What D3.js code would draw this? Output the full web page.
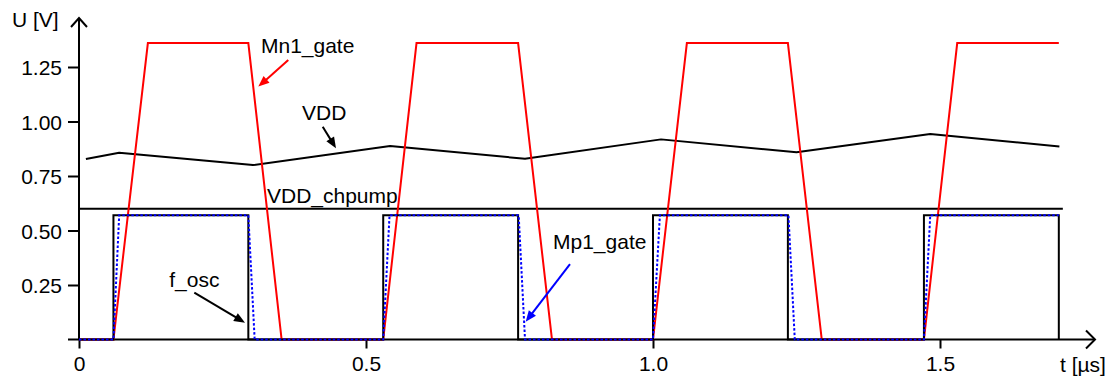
<!DOCTYPE html>
<html>
<head>
<meta charset="utf-8">
<script src="https://cdn.jsdelivr.net/npm/d3@7"></script>
<style>
  html, body { margin: 0; padding: 0; background: #fff; }
  svg { display: block; }
  text { font-family: "Liberation Sans", Arial, sans-serif; font-size: 21px; fill: #000; }
</style>
</head>
<body>
<svg id="chart" width="1114" height="379"></svg>
<script>
// Time axis ticks [µs] and voltage ticks [V]
const xTicks = [0, 0.5, 1.0, 1.5];
const xTickLabels = ["0", "0.5", "1.0", "1.5"];
const yTicks = [0.25, 0.5, 0.75, 1.0, 1.25];
const yTickLabels = ["0.25", "0.50", "0.75", "1.00", "1.25"];

// Oscillator clock
const fOscT = [0, 0.06, 0.06, 0.295, 0.295, 0.53, 0.53, 0.765, 0.765, 1.0, 1.0, 1.235, 1.235, 1.472, 1.472, 1.707, 1.707];
const fOscV = [0, 0, 0.57, 0.57, 0, 0, 0.57, 0.57, 0, 0, 0.57, 0.57, 0, 0, 0.57, 0.57, 0];

// PMOS gate drive
const mp1T = [0, 0.06, 0.07, 0.295, 0.306, 0.53, 0.541, 0.766, 0.777, 1.0, 1.012, 1.236, 1.247, 1.472, 1.483, 1.707];
const mp1V = [0, 0, 0.57, 0.57, 0, 0, 0.57, 0.57, 0, 0, 0.57, 0.57, 0, 0, 0.57, 0.57];

// NMOS gate drive (boosted)
const mn1T = [0, 0.06, 0.12, 0.295, 0.353, 0.53, 0.588, 0.765, 0.824, 1.0, 1.059, 1.235, 1.294, 1.472, 1.53, 1.707];
const mn1V = [0, 0, 1.36, 1.36, 0, 0, 1.36, 1.36, 0, 0, 1.36, 1.36, 0, 0, 1.36, 1.36];

// Supply voltage
const vddT = [0.012, 0.07, 0.303, 0.542, 0.777, 1.014, 1.25, 1.483, 1.708];
const vddV = [0.828, 0.857, 0.80, 0.888, 0.829, 0.918, 0.859, 0.943, 0.885];

// Charge pump supply
const chpT = [0, 1.714];
const chpV = [0.6, 0.6];

// Labels and pointer arrows, in data units (t, U)
const labels = [
  { text: "Mn1_gate",   t: 0.317,  v: 1.314 },
  { text: "VDD",        t: 0.3885, v: 1.007 },
  { text: "VDD_chpump", t: 0.3275, v: 0.626 },
  { text: "Mp1_gate",   t: 0.8258, v: 0.415 },
  { text: "f_osc",      t: 0.1573, v: 0.242 }
];
const arrows = [
  { t1: 0.3646, v1: 1.282, t2: 0.3124, v2: 1.160, color: "#ff0000" },
  { t1: 0.4246, v1: 0.976, t2: 0.4477, v2: 0.877, color: "#000" },
  { t1: 0.8554, v1: 0.346, t2: 0.7782, v2: 0.0817, color: "#0000ff" },
  { t1: 0.2009, v1: 0.215, t2: 0.2892, v2: 0.077, color: "#000" }
];

const svg = d3.select("#chart");
const x = d3.scaleLinear().domain([0, 1.5]).range([79, 940]);
const y = d3.scaleLinear().domain([0, 1.25]).range([339.5, 67]);

const zip = (ts, vs) => ts.map((t, i) => [t, vs[i]]);
const line = d3.line().x(d => x(d[0])).y(d => y(d[1]));
const FONT = "'Liberation Sans', Arial, sans-serif";

// Axes
const yAxis = d3.axisLeft(y)
  .tickValues(yTicks)
  .tickFormat((d, i) => yTickLabels[i])
  .tickSize(11)
  .tickPadding(6);
const gy = svg.append("g").attr("transform", `translate(${x(0)},0)`).call(yAxis);
gy.select(".domain").remove();
gy.selectAll(".tick line").attr("stroke", "#000").attr("stroke-width", 2);
gy.selectAll(".tick text")
  .attr("dy", "0.36em")
  .style("font-family", FONT)
  .style("font-size", "21px");

const xAxis = d3.axisBottom(x)
  .tickValues(xTicks)
  .tickFormat((d, i) => xTickLabels[i])
  .tickSize(9)
  .tickPadding(8);
const gx = svg.append("g").attr("transform", `translate(0,${y(0)})`).call(xAxis);
gx.select(".domain").remove();
gx.selectAll(".tick line").attr("stroke", "#000").attr("stroke-width", 2);
gx.selectAll(".tick text")
  .style("font-family", FONT)
  .style("font-size", "21px");

// Axis lines with open arrow heads
const x0 = x(0), y0 = y(0);
const xEnd = 1095, yTop = 18;
svg.append("line").attr("x1", x0 - 11).attr("y1", y0).attr("x2", xEnd).attr("y2", y0)
  .attr("stroke", "#000").attr("stroke-width", 2);
svg.append("line").attr("x1", x0).attr("y1", y0).attr("x2", x0).attr("y2", yTop)
  .attr("stroke", "#000").attr("stroke-width", 2);
svg.append("path").attr("d", `M${xEnd - 9},${y0 - 9}L${xEnd},${y0}L${xEnd - 9},${y0 + 9}`)
  .attr("fill", "none").attr("stroke", "#000").attr("stroke-width", 2);
svg.append("path").attr("d", `M${x0 - 8},${yTop + 9}L${x0},${yTop}L${x0 + 8},${yTop + 9}`)
  .attr("fill", "none").attr("stroke", "#000").attr("stroke-width", 2);

svg.append("text").attr("x", 12).attr("y", 27).text("U [V]");
svg.append("text").attr("x", 1060).attr("y", 371.5).text("t [µs]");

// Waveforms
svg.append("path").datum(zip(chpT, chpV)).attr("d", line)
  .attr("fill", "none").attr("stroke", "#000").attr("stroke-width", 2);
svg.append("path").datum(zip(vddT, vddV)).attr("d", line)
  .attr("fill", "none").attr("stroke", "#000").attr("stroke-width", 2).attr("stroke-linejoin", "round");
svg.append("path").datum(zip(mn1T, mn1V)).attr("d", line)
  .attr("fill", "none").attr("stroke", "#ff0000").attr("stroke-width", 2);
svg.append("path").datum(zip(fOscT, fOscV)).attr("d", line)
  .attr("fill", "none").attr("stroke", "#000").attr("stroke-width", 2);
svg.append("path").datum(zip(mp1T, mp1V)).attr("d", line)
  .attr("fill", "none").attr("stroke", "#0000ff").attr("stroke-width", 2)
  .attr("stroke-dasharray", "2.5,2");

// Annotations
labels.forEach(l => {
  svg.append("text").attr("x", x(l.t)).attr("y", y(l.v)).text(l.text);
});

arrows.forEach(a => {
  const x1 = x(a.t1), y1 = y(a.v1), x2 = x(a.t2), y2 = y(a.v2);
  const dx = x2 - x1, dy = y2 - y1, len = Math.hypot(dx, dy);
  const ux = dx / len, uy = dy / len;
  const headL = 11, headW = 4.5;
  const bx = x2 - ux * headL, by = y2 - uy * headL;
  svg.append("line").attr("x1", x1).attr("y1", y1).attr("x2", bx + ux * 2).attr("y2", by + uy * 2)
    .attr("stroke", a.color).attr("stroke-width", 2);
  svg.append("path")
    .attr("d", `M${x2},${y2}L${bx - uy * headW},${by + ux * headW}L${bx + uy * headW},${by - ux * headW}Z`)
    .attr("fill", a.color);
});
</script>
</body>
</html>
